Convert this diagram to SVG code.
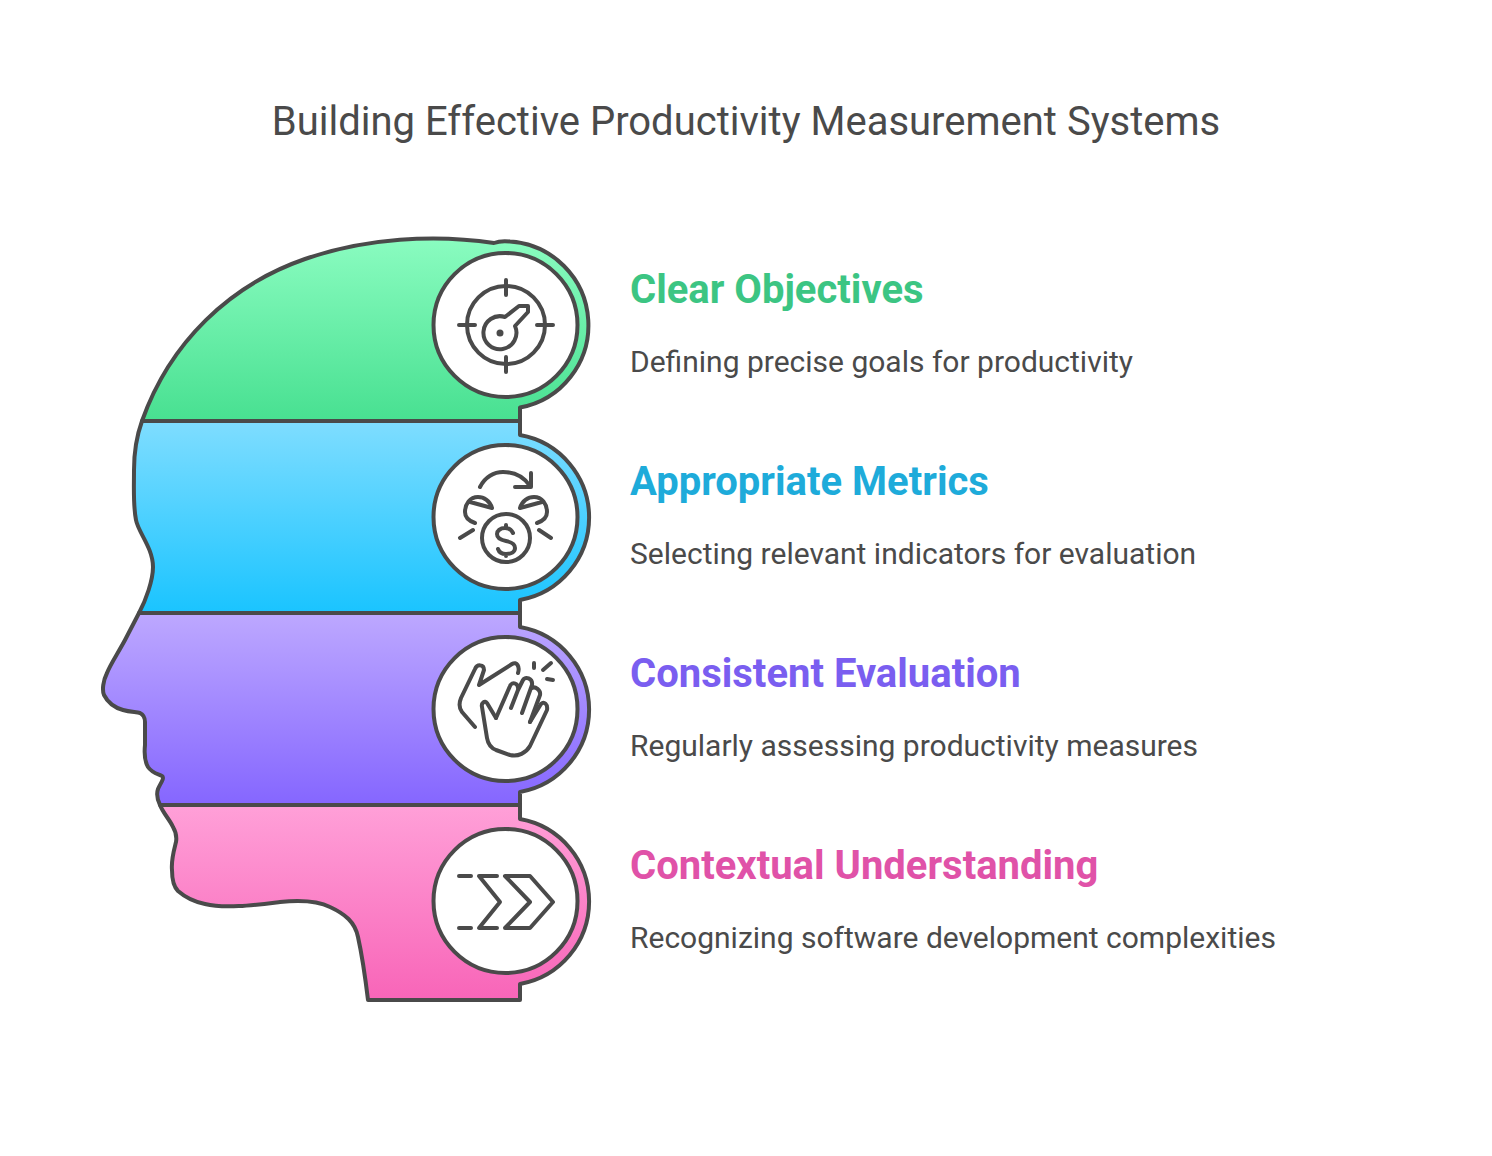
<svg xmlns="http://www.w3.org/2000/svg" width="1492" height="1156" viewBox="0 0 1492 1156">
<defs>
<linearGradient id="gGreen" x1="0" y1="0" x2="0" y2="1"><stop offset="0" stop-color="#8afcc0"/><stop offset="1" stop-color="#48e091"/></linearGradient>
<linearGradient id="gBlue" x1="0" y1="0" x2="0" y2="1"><stop offset="0" stop-color="#7fddff"/><stop offset="1" stop-color="#1ac4ff"/></linearGradient>
<linearGradient id="gPurple" x1="0" y1="0" x2="0" y2="1"><stop offset="0" stop-color="#bda8ff"/><stop offset="1" stop-color="#8566ff"/></linearGradient>
<linearGradient id="gPink" x1="0" y1="0" x2="0" y2="1"><stop offset="0" stop-color="#ffa0d8"/><stop offset="1" stop-color="#f865b8"/></linearGradient>
</defs>
<style>
.band{stroke:#4a4a4a;stroke-width:4;stroke-linejoin:round}
.disc{fill:#fff;stroke:#4a4a4a;stroke-width:4}
.ico{fill:none;stroke:#4a4a4a;stroke-width:4;stroke-linecap:round;stroke-linejoin:round}
.dot{fill:#4a4a4a}
text{font-family:Roboto,"Liberation Sans",sans-serif}
.title{font-size:40px;fill:#4a4a4a;text-anchor:middle}
.head{font-size:40px;font-weight:700}
.desc{font-size:30px;fill:#4a4a4a}
</style>
<rect width="1492" height="1156" fill="#fff"/>
<text class="title" x="746" y="135">Building Effective Productivity Measurement Systems</text>

<g id="node-clear-objectives">
<path class="band" fill="url(#gGreen)" d="M142,421 C170,342 230,285 305,259 C365,238 435,234 494,243 C499,241 505,241 510,241.500 A83.800 83.800 0 0 1 520,407.500 L520,421 Z"/>
<circle class="disc" cx="505.500" cy="325" r="72"/>
<circle class="ico" cx="506" cy="325" r="39"/>
<path class="ico" d="M506,280V295M506,357V372M459,325H475M537,325H553"/>
<path class="ico" d="M505,317 L519,306 L528,306 L528,312 L515,326 A16.500 16.500 0 1 1 505,317 Z"/>
<circle class="dot" cx="500" cy="333" r="3.500"/>
<text class="head" x="630" y="303" fill="#3cc583">Clear Objectives</text>
<text class="desc" x="630" y="372">Defining precise goals for productivity</text>
</g>

<g id="node-appropriate-metrics">
<path class="band" fill="url(#gBlue)" d="M142,421 C137,435 134,450 134,470 C134,490 133,505 136,520 C138,532 153,548 153,567 C153,580 146,600 139,613 L520,613 L520,600 A83.800 83.800 0 0 0 520,435 L520,421 Z"/>
<circle class="disc" cx="505.500" cy="517" r="72"/>
<circle class="ico" cx="506" cy="538" r="24"/>
<path class="ico" d="M513,533 C511,529 508,528 505,528 C500,528 497,531 497,534 C497,538 501,540 506,541 C511,542 515,544 515,548 C515,552 511,554 506,554 C502,554 499,552 498,549M506,525V528M506,554V556"/>
<path class="ico" d="M480,487 C485,477 494,472 503,472 C514,472 524,477 530,486M531,473V487H515"/>
<path class="ico" d="M492,508 C490,501 484,497 478,497 C470,497 465,504 465,512 C465,517 469,521 475,523M470,502L492,508"/>
<path class="ico" d="M520,508 C522,501 528,497 534,497 C542,497 547,504 547,512 C547,517 543,521 537,523M542,502L520,508"/>
<path class="ico" d="M460,538L473,530M539,530L551,538"/>
<text class="head" x="630" y="495" fill="#1eabda">Appropriate Metrics</text>
<text class="desc" x="630" y="564">Selecting relevant indicators for evaluation</text>
</g>

<g id="node-consistent-evaluation">
<path class="band" fill="url(#gPurple)" d="M139,613 L125,640 C118,653 110,665 107,673 C103,681 102,690 104,695 C108,703 116,708 123,710 C130,712 136,712 140,713 C144,715 145,718 145,722 L145,745 C144,755 145,762 148,767 C152,773 158,774 162,776 C165,778 160,784 158,789 C156,795 158,801 160,805 L520,805 L520,792 A83.800 83.800 0 0 0 520,627 L520,613 Z"/>
<circle class="disc" cx="505.500" cy="709" r="72"/>
<path class="ico" d="M475,727 L462,712 C459,708 459,703 461,698 L475,669 C477,664 484,664 484,670 L479,685 L512,664 C517,661 520,667 518,673"/>
<path class="ico" d="M496,718 L487,703 C485,700 481,703 482,707 L487,738 C488,744 491,748 496,750 L510,755 C518,757 526,753 530,746 L547,710 C548,704 544,701 541,704 L530,722"/>
<path class="ico" d="M496,718 L510,686 C512,681 519,683 518,690 L511,708M518,690 L523,680 C525,676 533,678 532,685 L522,713M532,688 C535,686 541,690 540,695 L530,722"/>
<path class="ico" d="M534,663V668M543,670L551,663M547,679L553,680"/>
<text class="head" x="630" y="687" fill="#7a5ef0">Consistent Evaluation</text>
<text class="desc" x="630" y="756">Regularly assessing productivity measures</text>
</g>

<g id="node-contextual-understanding">
<path class="band" fill="url(#gPink)" d="M160,805 C163,813 170,820 173,827 C176,832 177,836 176,842 C174,850 171,860 172,870 C172,880 174,887 178,891 C186,898 195,902 205,904 C225,909 255,905 280,902 C300,900 318,901 330,907 C345,914 355,922 358,937 C362,955 365,975 368,1000 L520,1000 L520,984 A83.800 83.800 0 0 0 520,819 L520,805 Z"/>
<circle class="disc" cx="505.500" cy="901" r="72"/>
<path class="ico" d="M459,876H471M459,928H471"/>
<path class="ico" d="M497,876H479L500,902L479,928H497"/>
<path class="ico" d="M505,876H530L553,902L530,928H505L530,902Z"/>
<text class="head" x="630" y="879" fill="#e052a8">Contextual Understanding</text>
<text class="desc" x="630" y="948">Recognizing software development complexities</text>
</g>
</svg>
